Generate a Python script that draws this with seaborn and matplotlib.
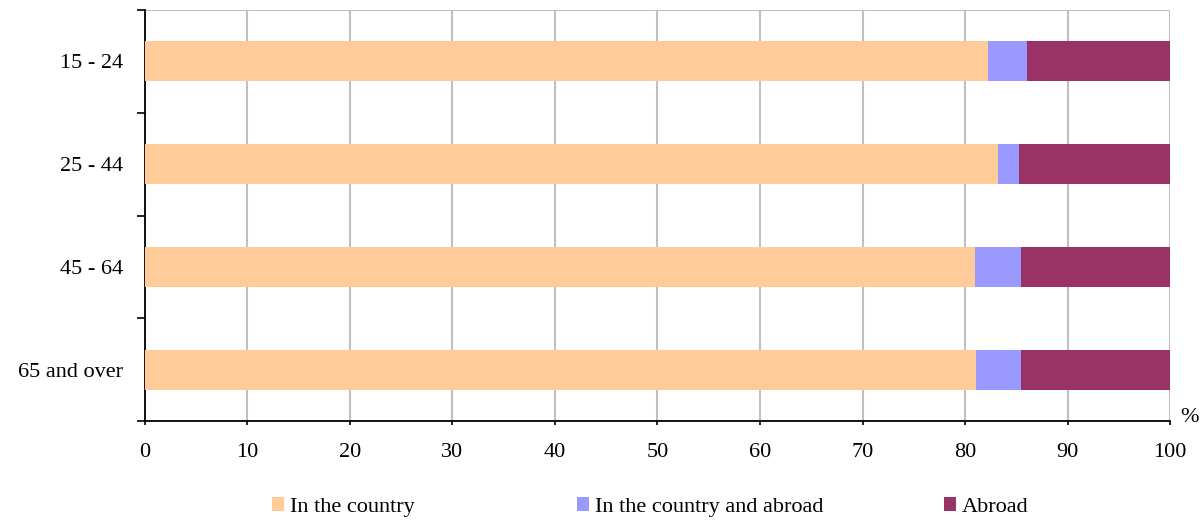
import numpy as np
import pandas as pd
import seaborn as sns
import matplotlib.pyplot as plt
from matplotlib.patches import Patch

# data
age_groups = ["15 - 24", "25 - 44", "45 - 64", "65 and over"]
in_country = [82.2, 83.2, 81.0, 81.1]
country_and_abroad = [3.8, 2.1, 4.5, 4.4]
abroad = [14.0, 14.7, 14.5, 14.5]

series_names = ["In the country", "In the country and abroad", "Abroad"]
colors = ["#FFCC99", "#9999FF", "#993366"]

sns.set_style("white")
plt.rcParams['font.family'] = ['Liberation Serif', 'DejaVu Serif']
plt.rcParams['text.color'] = 'black'
plt.rcParams['xtick.color'] = 'black'
plt.rcParams['ytick.color'] = 'black'

df = pd.DataFrame({"age": age_groups,
                   "c1": in_country,
                   "c2": np.array(in_country) + np.array(country_and_abroad),
                   "c3": np.array(in_country) + np.array(country_and_abroad) + np.array(abroad)})

fig, ax = plt.subplots(figsize=(12.02, 5.2), dpi=100)
fig.subplots_adjust(left=0.1206, right=0.9734, top=0.981, bottom=0.19)

# stacked bars: draw cumulative totals from the back
for col, c in zip(["c3", "c2", "c1"], colors[::-1]):
    sns.barplot(data=df, x=col, y="age", orient="h", color=c, width=0.39,
                saturation=1, ax=ax, zorder=3, linewidth=0)

ax.set_xlim(0, 100)
ax.set_ylim(3.5, -0.5)
ax.set_xticks(range(0, 101, 10))
ax.set_yticks([-0.5, 0.5, 1.5, 2.5, 3.5])
ax.set_yticklabels([])
ax.set_yticks(range(4), minor=True)
ax.set_yticklabels(age_groups, minor=True, fontsize=16)
ax.tick_params(axis='y', which='minor', length=0, pad=16)
ax.tick_params(axis='y', which='major', left=True, length=6, width=1.2, color='black')
ax.tick_params(axis='x', bottom=True, length=3, width=1.2, color='black', labelsize=16, pad=13)
ax.set_xlabel("")
ax.set_ylabel("")

ax.xaxis.grid(True, color="#C0C0C0", linewidth=1.5, zorder=0)
ax.set_axisbelow(True)
for s in ["top", "right"]:
    ax.spines[s].set_visible(False)
ax.spines["left"].set_color("black")
ax.spines["bottom"].set_color("black")
ax.spines["left"].set_linewidth(1.3)
ax.spines["bottom"].set_linewidth(1.3)
ax.axhline(-0.5, color="#C0C0C0", linewidth=1.5, zorder=1)

ax.text(1.01, 0.01, "%", transform=ax.transAxes, fontsize=16, ha="left", va="center")

# legend entries placed one by one, as in the reference
legend_x = [272 / 1202, 577 / 1202, 944 / 1202]
for name, c, lx in zip(series_names, colors, legend_x):
    fig.legend([Patch(facecolor=c, edgecolor='none')], [name], loc="center left",
               bbox_to_anchor=(lx, 13 / 520), frameon=False, fontsize=16,
               handlelength=0.55, handleheight=0.55, handletextpad=0.25,
               borderpad=0, borderaxespad=0)

fig.savefig("out.png", dpi=100)
